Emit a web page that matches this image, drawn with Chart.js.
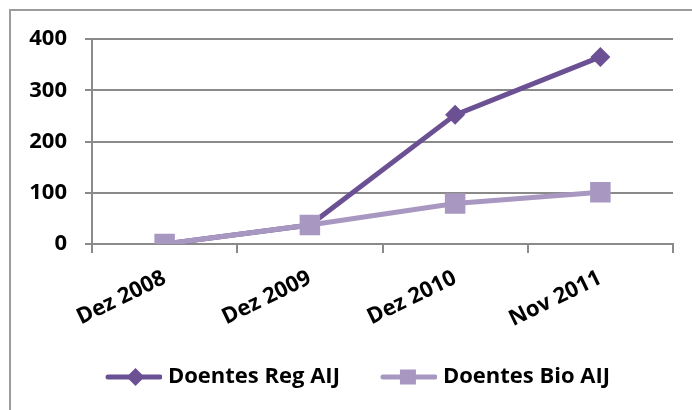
<!DOCTYPE html>
<html>
<head>
<meta charset="utf-8">
<script src="https://cdn.jsdelivr.net/npm/chart.js@4/dist/chart.umd.min.js"></script>
<style>
  html, body { margin: 0; padding: 0; background: #ffffff; }
  #wrap { position: relative; width: 692px; height: 410px; }
  canvas { display: block; }
</style>
</head>
<body>
<div id="wrap"><canvas id="c" width="692" height="410"></canvas></div>
<script>
const categories = ['Dez 2008', 'Dez 2009', 'Dez 2010', 'Nov 2011'];
const seriesNames = ['Doentes Reg AIJ', 'Doentes Bio AIJ'];
const regValues = [0, 37, 252, 365];
const bioValues = [0, 37, 79, 101];
const yTicks = [0, 100, 200, 300, 400];

const REG = '#6B5193';
const BIO = '#A898C1';
const GRID = '#8a8a8a';
const FONT = '"Open Sans", Lato, "Liberation Sans", sans-serif';

// legend glyph: box is 52px wide, image 62px wide drawn centred on the box
function legendImage(color, marker) {
  const c = document.createElement('canvas');
  c.width = 62; c.height = 22;
  const g = c.getContext('2d');
  g.strokeStyle = color; g.lineWidth = 5; g.lineCap = 'round';
  g.beginPath(); g.moveTo(8, 11); g.lineTo(60, 11); g.stroke();
  g.fillStyle = color;
  if (marker === 'diamond') {
    g.beginPath(); g.moveTo(35.5, 2); g.lineTo(44.5, 11); g.lineTo(35.5, 20); g.lineTo(26.5, 11); g.closePath(); g.fill();
  } else {
    g.fillRect(25, 3.5, 16, 15);
  }
  return c;
}
const legendImgs = [legendImage(REG, 'diamond'), legendImage(BIO, 'square')];

const frame = {
  id: 'frame',
  beforeDraw(chart) {
    const ctx = chart.ctx;
    ctx.save();
    ctx.strokeStyle = '#9c9c9c';
    ctx.lineWidth = 2;
    ctx.beginPath();
    ctx.moveTo(10, 420); ctx.lineTo(10, 10); ctx.lineTo(700, 10);
    ctx.stroke();
    ctx.restore();
  }
};

// nudge the legend row to the right, as in the reference
const legendShift = {
  id: 'legendShift',
  afterLayout(chart) {
    if (chart.legend) { chart.legend.left += 13.5; chart.legend.right += 13.5; }
  }
};

new Chart(document.getElementById('c'), {
  type: 'line',
  data: {
    labels: categories,
    datasets: [
      { label: seriesNames[0], data: regValues, order: 1, borderColor: REG, backgroundColor: REG,
        borderWidth: 5, pointStyle: 'rectRot', pointRadius: 10, pointHoverRadius: 10,
        pointBackgroundColor: REG, pointBorderColor: REG, pointBorderWidth: 0, tension: 0 },
      { label: seriesNames[1], data: bioValues, order: 0, borderColor: BIO, backgroundColor: BIO,
        borderWidth: 5, pointStyle: 'rect', pointRadius: 14.5, pointHoverRadius: 14.5,
        pointBackgroundColor: BIO, pointBorderColor: BIO, pointBorderWidth: 0, tension: 0 }
    ]
  },
  options: {
    responsive: false,
    animation: false,
    layout: { padding: { left: 15, right: 19, top: 39, bottom: 12 } },
    plugins: {
      tooltip: { enabled: false },
      legend: {
        position: 'bottom',
        labels: {
          usePointStyle: true,
          pointStyleWidth: 52,
          padding: 40,
          color: '#000000',
          font: { family: FONT, size: 22, weight: 'bold' },
          generateLabels(chart) {
            return chart.data.datasets.map((ds, i) => ({
              text: ds.label, pointStyle: legendImgs[i], fillStyle: ds.borderColor,
              strokeStyle: ds.borderColor, lineWidth: 0, hidden: false, datasetIndex: i
            }));
          }
        }
      }
    },
    scales: {
      x: {
        offset: true,
        afterFit(s) { s.height = 82; },
        grid: { offset: true, drawOnChartArea: false, drawTicks: true, tickLength: 9, color: GRID, lineWidth: 2 },
        border: { display: true, color: GRID, width: 2 },
        ticks: { color: '#000000', minRotation: 26, maxRotation: 26, padding: 12,
                 font: { family: FONT, size: 22, weight: 'bold' } }
      },
      y: {
        min: 0, max: 400,
        afterFit(s) { s.width = 77; },
        afterBuildTicks(s) { s.ticks = yTicks.map(v => ({ value: v })); },
        grid: { color: GRID, lineWidth: 2, drawTicks: true, tickLength: 7 },
        border: { display: true, color: GRID, width: 2 },
        ticks: { color: '#000000', padding: 18, stepSize: 100,
                 font: { family: FONT, size: 22, weight: 'bold' } }
      }
    }
  },
  plugins: [frame, legendShift]
});
</script>
</body>
</html>
